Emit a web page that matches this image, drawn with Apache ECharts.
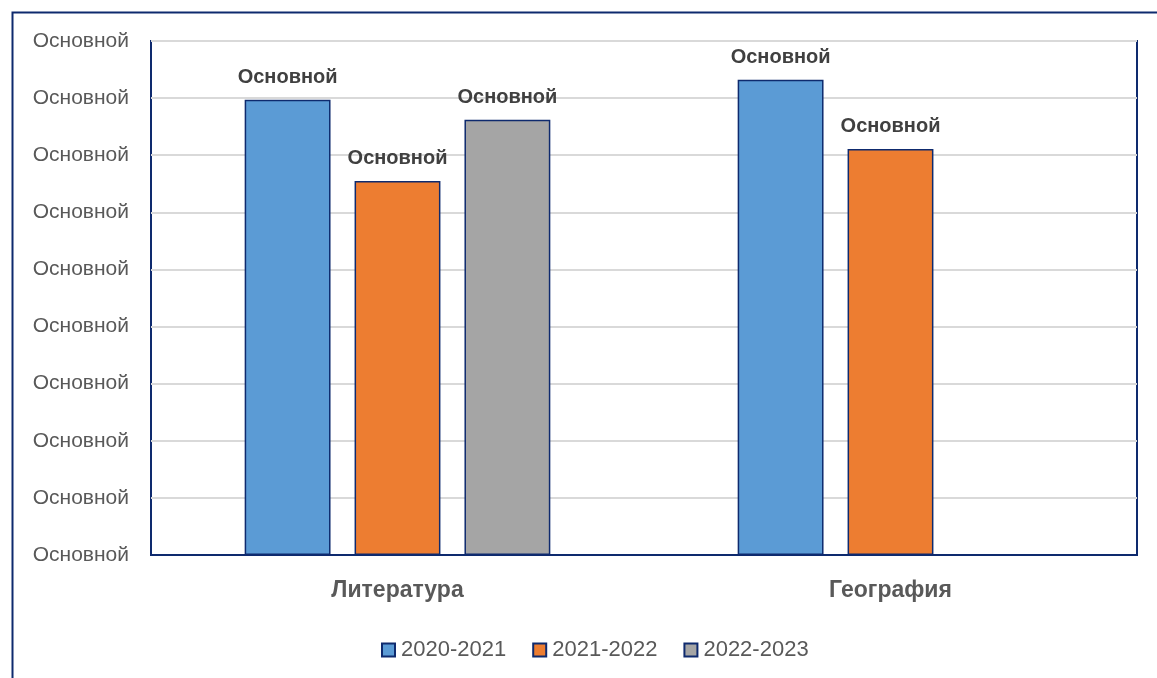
<!DOCTYPE html>
<html><head><meta charset="utf-8">
<script src="https://cdn.jsdelivr.net/npm/echarts@6/dist/echarts.min.js"></script>
<style>html,body{margin:0;padding:0;background:#fff}#c{width:1157px;height:678px}</style>
</head><body><div id="c"></div>
<script>
const categories = ['Литература', 'География'];
const seriesNames = ['2020-2021', '2021-2022', '2022-2023'];
const s2020 = [7.97, 8.32];
const s2021 = [6.55, 7.11];
const s2022 = [7.62, null];
const yTickLabels = ['Основной','Основной','Основной','Основной','Основной','Основной','Основной','Основной','Основной','Основной'];
const dataLabelText = 'Основной';
const colors = ['#5b9bd5', '#ed7d31', '#a5a5a5'];
const navy = '#0e2a6e';
const FONT = 'Liberation Sans';

const chart = echarts.init(document.getElementById('c'), null, {renderer: 'canvas'});
const values = [s2020, s2021, s2022];
chart.setOption({
  animation: false,
  textStyle: {fontFamily: FONT},
  graphic: [{type: 'rect', left: 10, top: 10, shape: {width: 1300, height: 800}, style: {fill: 'none', stroke: navy, lineWidth: 2}, silent: true, z: -1}],
  grid: {left: 151, right: 20, top: 41, bottom: 123, show: true, borderColor: navy, borderWidth: 2, backgroundColor: 'transparent'},
  legend: {top: 634, left: 376, itemWidth: 13, itemHeight: 13, itemGap: 26,
    textStyle: {fontSize: 22, color: '#595959', fontFamily: FONT, padding: [0, 0, 0, 1]},
    data: seriesNames.map(n => ({name: n, icon: 'rect'}))},
  xAxis: {type: 'category', data: categories,
    axisLine: {lineStyle: {color: navy, width: 2}}, axisTick: {show: false},
    axisLabel: {fontSize: 23, fontWeight: 'bold', color: '#595959', margin: 24, fontFamily: FONT}},
  yAxis: {type: 'value', min: 0, max: 9, interval: 1,
    axisLine: {show: false}, axisTick: {show: false},
    splitLine: {lineStyle: {color: '#d9d9d9', width: 2}},
    axisLabel: {fontSize: 21, color: '#595959', margin: 22, fontFamily: FONT,
      formatter: (v) => yTickLabels[Math.round(v)]}},
  series: seriesNames.map((n, i) => ({
    name: n, type: 'bar', data: values[i], barGap: '28%', barCategoryGap: '38%',
    itemStyle: {color: colors[i], borderColor: navy, borderWidth: 1.5},
    label: {show: true, position: 'top', distance: 12, formatter: () => dataLabelText,
      fontSize: 20, fontWeight: 'bold', color: '#404040', fontFamily: FONT}
  }))
});
</script></body></html>
